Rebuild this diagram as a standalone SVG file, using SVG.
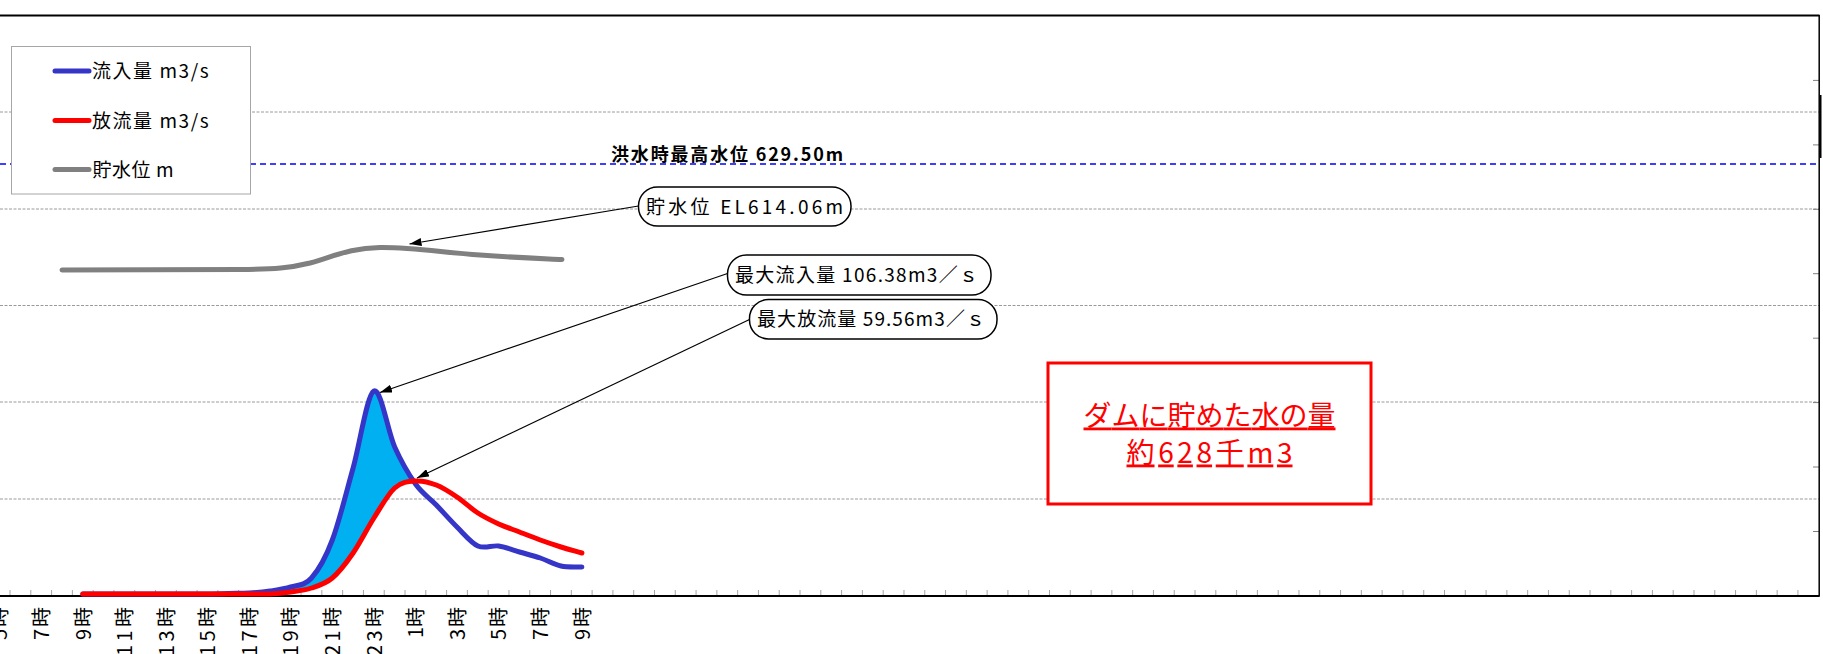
<svg xmlns="http://www.w3.org/2000/svg" width="1823" height="654" viewBox="0 0 1823 654">
<style>
text { font-family: "Noto Sans CJK JP", "Noto Sans", sans-serif; fill: #000; }
.grid { stroke: #9a9a9a; stroke-width: 1; fill: none; stroke-dasharray: 3,1.5; }
.xt { stroke: #a6a6a6; stroke-width: 1; fill: none; }
.rt { stroke: #7f7f7f; stroke-width: 1; fill: none; }
.frame { stroke: #000; fill: none; }
.xl { font-size: 20px; }
.lg { font-size: 19px; }
.callout rect { fill: #fff; stroke: #000; stroke-width: 1.5; }
.callout text { font-size: 19px; }
.lead { stroke: #000; stroke-width: 1.2; fill: none; marker-end: url(#ah); }
.series { fill: none; stroke-width: 5; stroke-linecap: round; stroke-linejoin: round; }
.inflow { stroke: #3535c8; }
.outflow { stroke: #ff0000; }
.level { stroke: #808080; }
</style>
<defs>
<marker id="ah" viewBox="0 0 12 8" refX="12" refY="4" markerWidth="12" markerHeight="8" markerUnits="userSpaceOnUse" orient="auto"><path d="M0,0 L12,4 L0,8 Z" fill="#000"/></marker>
</defs>
<rect x="0" y="0" width="1823" height="654" fill="#fff"/>

<g id="axes">
<path class="grid" d="M0,112H1819 M0,209H1819 M0,305.5H1819 M0,402H1819 M0,499H1819"/>
<path d="M0,164H1819" stroke="#0000ff" stroke-width="1.5" stroke-dasharray="6,4" fill="none"/>
<path class="xt" d="M10,590V596 M30.79,590V596 M51.58,590V596 M72.37,590V596 M93.16,590V596 M113.95,590V596 M134.74,590V596 M155.53,590V596 M176.32,590V596 M197.11,590V596 M217.9,590V596 M238.69,590V596 M259.48,590V596 M280.27,590V596 M301.06,590V596 M321.85,590V596 M342.64,590V596 M363.43,590V596 M384.22,590V596 M405.01,590V596 M425.8,590V596 M446.59,590V596 M467.38,590V596 M488.17,590V596 M508.96,590V596 M529.75,590V596 M550.54,590V596 M571.33,590V596 M592.12,590V596 M612.91,590V596 M633.7,590V596 M654.49,590V596 M675.28,590V596 M696.07,590V596 M716.86,590V596 M737.65,590V596 M758.44,590V596 M779.23,590V596 M800.02,590V596 M820.81,590V596 M841.6,590V596 M862.39,590V596 M883.18,590V596 M903.97,590V596 M924.76,590V596 M945.55,590V596 M966.34,590V596 M987.13,590V596 M1007.92,590V596 M1028.71,590V596 M1049.5,590V596 M1070.29,590V596 M1091.08,590V596 M1111.87,590V596 M1132.66,590V596 M1153.45,590V596 M1174.24,590V596 M1195.03,590V596 M1215.82,590V596 M1236.61,590V596 M1257.4,590V596 M1278.19,590V596 M1298.98,590V596 M1319.77,590V596 M1340.56,590V596 M1361.35,590V596 M1382.14,590V596 M1402.93,590V596 M1423.72,590V596 M1444.51,590V596 M1465.3,590V596 M1486.09,590V596 M1506.88,590V596 M1527.67,590V596 M1548.46,590V596 M1569.25,590V596 M1590.04,590V596 M1610.83,590V596 M1631.62,590V596 M1652.41,590V596 M1673.2,590V596 M1693.99,590V596 M1714.78,590V596 M1735.57,590V596 M1756.36,590V596 M1777.15,590V596 M1797.94,590V596"/>
<path class="rt" d="M1813,80.4H1819 M1813,144.9H1819 M1813,209.3H1819 M1813,273.7H1819 M1813,338.2H1819 M1813,402.6H1819 M1813,467H1819 M1813,531.5H1819"/>
<path class="frame" stroke-width="2" d="M0,15.5H1819.5 M0,596H1819.5"/>
<path class="frame" stroke-width="1.5" d="M1819.2,15V596.5"/>
<path class="frame" stroke-width="2" d="M1820.5,95V158"/>
<g id="x-labels" class="xl" text-anchor="end">
<text transform="translate(7.3,607) rotate(-90)" textLength="33">5時</text>
<text transform="translate(48.9,607) rotate(-90)" textLength="33">7時</text>
<text transform="translate(90.5,607) rotate(-90)" textLength="33">9時</text>
<text transform="translate(132.1,607) rotate(-90)" textLength="49">11時</text>
<text transform="translate(173.7,607) rotate(-90)" textLength="49">13時</text>
<text transform="translate(215.3,607) rotate(-90)" textLength="49">15時</text>
<text transform="translate(256.9,607) rotate(-90)" textLength="49">17時</text>
<text transform="translate(298.4,607) rotate(-90)" textLength="49">19時</text>
<text transform="translate(340,607) rotate(-90)" textLength="49">21時</text>
<text transform="translate(381.6,607) rotate(-90)" textLength="49">23時</text>
<text transform="translate(423.2,607) rotate(-90)" textLength="31">1時</text>
<text transform="translate(464.7,607) rotate(-90)" textLength="33">3時</text>
<text transform="translate(506.4,607) rotate(-90)" textLength="33">5時</text>
<text transform="translate(548,607) rotate(-90)" textLength="33">7時</text>
<text transform="translate(589.6,607) rotate(-90)" textLength="33">9時</text>
</g>
</g>

<g id="series">
<path id="stored-volume" fill="#00b0f0" stroke="none" d="M228.4,593.5 C235.3,593.3 242.3,593.4 249.2,593 C256.1,592.6 263.1,592 270,591 C276.9,590 283.8,589.2 290.7,587 C297.6,584.8 304.6,585.8 311.5,578 C318.4,570.2 325.4,558.3 332.3,540 C339.2,521.7 346.2,492.8 353.1,468 C360,443.2 367,394.5 373.9,391 C380.8,387.5 387.8,431.5 394.7,447 C401.6,462.5 408.6,474.3 415.5,484 L415.5,481 C408.6,481.5 401.6,481.8 394.7,488 C387.8,494.2 380.8,507.2 373.9,518 C367,528.8 360,543 353.1,553 C346.2,563 339.2,572.2 332.3,578 C325.4,583.8 318.4,585.7 311.5,588 C304.6,590.3 297.6,591 290.7,592 C283.8,593 276.9,593.7 270,594 L228.4,594 Z"/>
<path id="level-line" class="series level" d="M62,270 L240,269.5 C275,269 290,268 310,263 C335,256 350,248 380,247.5 C410,247 440,252 480,255 C520,258 540,258.5 562,259.5"/>
<path id="inflow-line" class="series inflow" d="M82.8,594 L207.6,594 C214.5,593.9 221.5,593.7 228.4,593.5 C235.3,593.3 242.3,593.4 249.2,593 C256.1,592.6 263.1,592 270,591 C276.9,590 283.8,589.2 290.7,587 C297.6,584.8 304.6,585.8 311.5,578 C318.4,570.2 325.4,558.3 332.3,540 C339.2,521.7 346.2,492.8 353.1,468 C360,443.2 367,394.5 373.9,391 C380.8,387.5 387.8,431.5 394.7,447 C401.6,462.5 408.6,474.3 415.5,484 C422.4,493.7 429.4,497.8 436.3,505 C443.2,512.2 450.1,520.2 457,527 C463.9,533.8 471,542.8 477.9,546 C484.8,549.2 491.8,545 498.7,546 C505.6,547 512.6,550 519.5,552 C526.4,554 533.4,555.7 540.3,558 C547.2,560.3 554.1,564.5 561,566 C567.9,567.5 575,566.8 581.9,567"/>
<path id="outflow-line" class="series outflow" d="M82.8,594 L270,594 C276.9,593.7 283.8,593 290.7,592 C297.6,591 304.6,590.3 311.5,588 C318.4,585.7 325.4,583.8 332.3,578 C339.2,572.2 346.2,563 353.1,553 C360,543 367,528.8 373.9,518 C380.8,507.2 387.8,494.2 394.7,488 C401.6,481.8 408.6,481.5 415.5,481 C422.4,480.5 429.4,482.3 436.3,485 C443.2,487.7 450.1,492.3 457,497 C463.9,501.7 471,508.5 477.9,513 C484.8,517.5 491.8,520.8 498.7,524 C505.6,527.2 512.6,529.3 519.5,532 C526.4,534.7 533.4,537.5 540.3,540 C547.2,542.5 554.1,544.8 561,547 C567.9,549.2 575,551 581.9,553"/>
</g>

<g id="legend">
<rect x="11.5" y="46.5" width="239" height="147.5" fill="#fff" stroke="#a6a6a6" stroke-width="1"/>
<path class="series inflow" d="M55,71H89"/>
<path class="series outflow" d="M55,120.5H89"/>
<path class="series level" d="M55,169.5H89"/>
<text class="lg" x="92" y="78" textLength="116.6">流入量 m3/s</text>
<text class="lg" x="92" y="127.5" textLength="116.6">放流量 m3/s</text>
<text class="lg" x="92.5" y="176.5" textLength="81">貯水位 m</text>
</g>

<g id="flood-level-label">
<text x="611" y="161" font-size="18" font-weight="bold" textLength="232">洪水時最高水位 629.50m</text>
</g>

<g id="connectors">
<line class="lead" x1="638.5" y1="206" x2="409.5" y2="244"/>
<line class="lead" x1="727.5" y1="273.5" x2="380" y2="392.5"/>
<line class="lead" x1="749.5" y1="319.5" x2="417" y2="478"/>
</g>

<g id="callout-level" class="callout">
<rect x="638.5" y="187" width="212.5" height="39" rx="19"/>
<text x="646" y="213.5" textLength="197">貯水位 EL614.06m</text>
</g>
<g id="callout-inflow" class="callout">
<rect x="727.5" y="255" width="263.5" height="40" rx="19"/>
<text x="735" y="282" textLength="243">最大流入量 106.38m3／ｓ</text>
</g>
<g id="callout-outflow" class="callout">
<rect x="749.5" y="299.5" width="247.5" height="39.5" rx="19"/>
<text x="757" y="326" textLength="228">最大放流量 59.56m3／ｓ</text>
</g>

<g id="stored-note">
<rect x="1048" y="363" width="323" height="141" fill="#fff" stroke="#ff0000" stroke-width="3"/>
<text x="1209.5" y="425.5" font-size="28" text-anchor="middle" textLength="252" style="fill:#ff0000;text-decoration:underline">ダムに貯めた水の量</text>
<text x="1209.5" y="462.5" font-size="28" text-anchor="middle" textLength="166" style="fill:#ff0000;text-decoration:underline">約628千m3</text>
</g>
</svg>
